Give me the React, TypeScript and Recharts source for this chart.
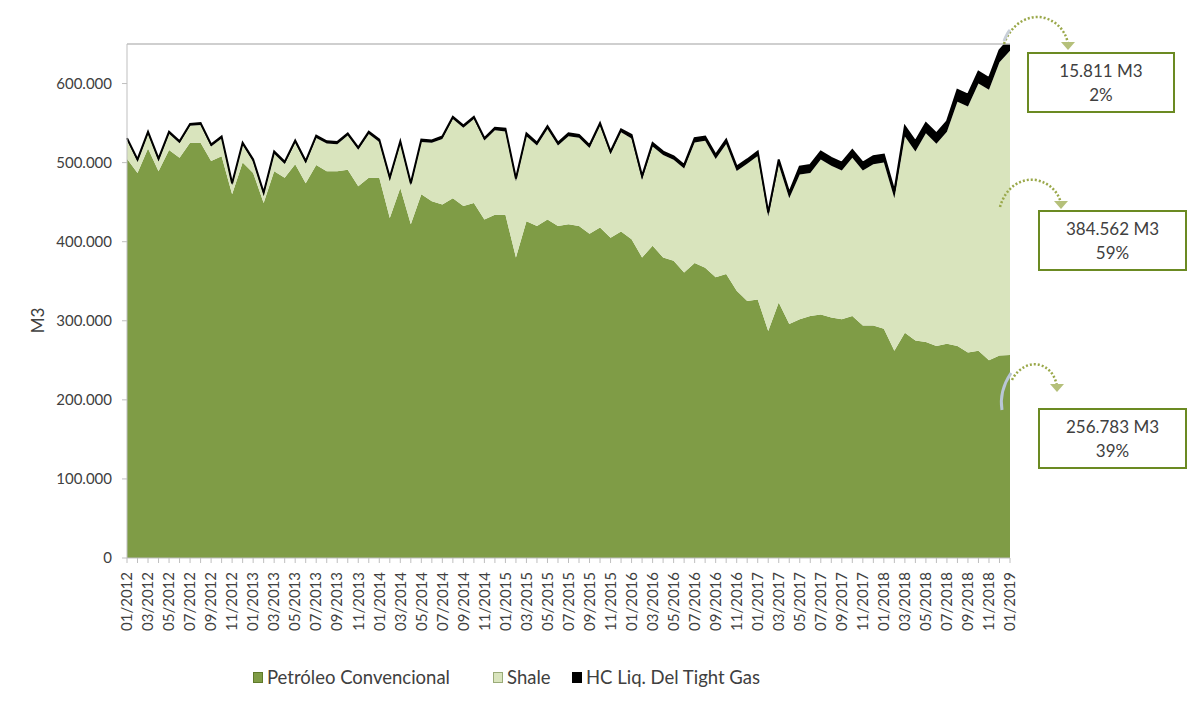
import { AreaChart, Area, XAxis, YAxis, ReferenceLine } from 'recharts';

const months = [
  '01/2012', '02/2012', '03/2012', '04/2012', '05/2012', '06/2012', '07/2012', '08/2012', '09/2012', '10/2012', '11/2012', '12/2012',
  '01/2013', '02/2013', '03/2013', '04/2013', '05/2013', '06/2013', '07/2013', '08/2013', '09/2013', '10/2013', '11/2013', '12/2013',
  '01/2014', '02/2014', '03/2014', '04/2014', '05/2014', '06/2014', '07/2014', '08/2014', '09/2014', '10/2014', '11/2014', '12/2014',
  '01/2015', '02/2015', '03/2015', '04/2015', '05/2015', '06/2015', '07/2015', '08/2015', '09/2015', '10/2015', '11/2015', '12/2015',
  '01/2016', '02/2016', '03/2016', '04/2016', '05/2016', '06/2016', '07/2016', '08/2016', '09/2016', '10/2016', '11/2016', '12/2016',
  '01/2017', '02/2017', '03/2017', '04/2017', '05/2017', '06/2017', '07/2017', '08/2017', '09/2017', '10/2017', '11/2017', '12/2017',
  '01/2018', '02/2018', '03/2018', '04/2018', '05/2018', '06/2018', '07/2018', '08/2018', '09/2018', '10/2018', '11/2018', '12/2018',
  '01/2019',
];

// m3 por mes
const convencional = [
  505000, 487000, 518000, 489000, 516000, 506000, 525000, 525000, 502000, 508000, 460000, 500000,
  487000, 449000, 489000, 481000, 498000, 474000, 497000, 489000, 489000, 491000, 470000, 481000,
  481000, 430000, 468000, 422000, 460000, 451000, 447000, 455000, 445000, 449000, 428000, 434000,
  434000, 380000, 426000, 420000, 428000, 420000, 422000, 420000, 410000, 418000, 405000, 413000,
  403000, 380000, 395000, 380000, 376000, 361000, 373000, 367000, 355000, 359000, 338000, 325000,
  327000, 287000, 323000, 296000, 302000, 306000, 308000, 304000, 302000, 306000, 294000, 294000,
  290000, 262000, 285000, 275000, 273000, 268000, 271000, 268000, 260000, 262000, 250000, 256000,
  256783,
];

const shale = [
  23500, 14500, 18500, 13500, 20500, 18500, 21500, 22500, 18500, 22500, 11500, 22500,
  14200, 10200, 22200, 17200, 27200, 25200, 34200, 35200, 34200, 43200, 46200, 55200,
  45000, 48000, 56000, 49000, 66000, 74000, 83000, 100000, 99000, 106000, 100000, 107000,
  105500, 96500, 107500, 101500, 114500, 101500, 111500, 111500, 108500, 128500, 105500, 125500,
  127500, 98500, 125500, 129500, 127500, 131500, 152500, 160500, 149500, 164500, 151500, 173500,
  181500, 145000, 174000, 159000, 183000, 181000, 196000, 192000, 188000, 200000, 196000, 204000,
  210000, 193000, 248000, 239000, 264000, 256000, 268000, 309000, 311000, 338000, 342000, 371000,
  384562,
];

const tightGas = [
  2500, 2500, 2500, 2500, 2500, 2500, 2500, 2500, 2500, 2500, 2500, 2500,
  2800, 2800, 2800, 2800, 2800, 2800, 2800, 2800, 2800, 2800, 2800, 2800,
  3000, 3000, 3000, 3000, 3000, 3000, 3000, 3000, 3000, 3000, 3000, 3000,
  3500, 3500, 3500, 3500, 3500, 3500, 3500, 3500, 3500, 3500, 3500, 3500,
  4500, 4500, 4500, 4500, 4500, 4500, 5500, 5500, 5500, 5500, 5500, 5500,
  5500, 5000, 7000, 7000, 10000, 10000, 10000, 10000, 10000, 10000, 10000, 10000,
  10000, 9000, 13000, 13000, 13000, 13000, 13000, 15000, 15000, 15000, 15000, 15000,
  15811,
];

const yTicks = [0, 100000, 200000, 300000, 400000, 500000, 600000];

const data = months.map((m, i) => ({
  month: m,
  convencional: convencional[i],
  shale: shale[i],
  tight: tightGas[i],
}));

const FONT = 'Lato, "Open Sans", sans-serif';
const GREEN = '#7f9c46';
const LIGHT = '#d9e4bd';
const BORDER = '#6b8a22';

const fmt = (v: number) => String(v).replace(/\B(?=(\d{3})+(?!\d))/g, '.');

function MonthTick(props: any) {
  const { x, y, payload, index } = props;
  if (index % 2 !== 0) return null;
  return (
    <text
      x={x}
      y={y}
      transform={`rotate(-90, ${x}, ${y})`}
      textAnchor="end"
      dy="0.35em"
      fontSize={15}
      fontFamily={FONT}
      fill="#404040"
    >
      {payload.value}
    </text>
  );
}

const boxStyle = (left: number, top: number, w: number): React.CSSProperties => ({
  position: 'absolute',
  left,
  top,
  width: w,
  height: 61,
  border: `2px solid ${BORDER}`,
  background: '#fff',
  boxSizing: 'border-box',
  fontFamily: FONT,
  fontSize: 17,
  color: '#404040',
  textAlign: 'center',
  lineHeight: '24px',
  paddingTop: 5,
});

const legendItems = [
  { label: 'Petróleo Convencional', color: GREEN, border: '#5f7a2a', x: 253 },
  { label: 'Shale', color: LIGHT, border: '#9aab78', x: 493 },
  { label: 'HC Liq. Del Tight Gas', color: '#000', border: '#000', x: 572 },
];

export default function App() {
  return (
    <div style={{ position: 'absolute', left: 0, top: 0, width: 1192, height: 717, background: '#fff' }}>
      <AreaChart
        width={1192}
        height={717}
        data={data}
        margin={{ top: 44, right: 182, bottom: 69, left: 50 }}
      >
        <XAxis
          dataKey="month"
          interval={0}
          tick={<MonthTick />}
          tickLine={{ stroke: '#bfbfbf' }}
          tickSize={5}
          tickMargin={9}
          axisLine={{ stroke: '#bfbfbf' }}
          height={90}
        />
        <YAxis
          type="number"
          domain={[0, 650000]}
          allowDataOverflow
          ticks={yTicks}
          tickFormatter={fmt}
          width={77}
          tick={{ fontSize: 15, fontFamily: FONT, fill: '#404040' }}
          tickLine={{ stroke: '#bfbfbf' }}
          tickSize={5}
          tickMargin={10}
          axisLine={{ stroke: '#bfbfbf' }}
        />
        <Area
          type="linear"
          dataKey="convencional"
          stackId="1"
          stroke="none"
          fill={GREEN}
          fillOpacity={1}
          isAnimationActive={false}
        />
        <Area
          type="linear"
          dataKey="shale"
          stackId="1"
          stroke="none"
          fill={LIGHT}
          fillOpacity={1}
          isAnimationActive={false}
        />
        <Area
          type="linear"
          dataKey="tight"
          stackId="1"
          stroke="#000"
          strokeWidth={2}
          fill="#000"
          fillOpacity={1}
          isAnimationActive={false}
        />
        <ReferenceLine y={650000} stroke="#bfbfbf" strokeWidth={1.5} />
      </AreaChart>

      <div
        style={{
          position: 'absolute',
          left: 37 - 20,
          top: 310,
          width: 40,
          textAlign: 'center',
          transform: 'rotate(-90deg)',
          fontFamily: FONT,
          fontSize: 17,
          color: '#404040',
        }}
      >
        M3
      </div>

      <svg width={1192} height={717} style={{ position: 'absolute', left: 0, top: 0, pointerEvents: 'none' }}>
        <g fill="none" stroke="#9aa84a" strokeWidth={2.5} strokeDasharray="2 2">
          <path d="M1004 44 C1012 22, 1030 14, 1045 18 C1058 22, 1066 32, 1068 44" />
          <path d="M1000 207 C1006 186, 1022 178, 1036 180 C1050 183, 1058 192, 1061 203" />
          <path d="M1012 380 C1018 368, 1030 362, 1040 365 C1050 368, 1055 376, 1057 386" />
        </g>
        <g fill="#b5c07a">
          <path d="M1061 42 L1075 42 L1068 50 Z" />
          <path d="M1054 201 L1068 201 L1061 209 Z" />
          <path d="M1050 384 L1064 384 L1057 392 Z" />
        </g>
        <path d="M1011 373 C1003 385, 1000 398, 1002 410" fill="none" stroke="#b9c6d6" strokeWidth={3} />
        <path d="M1004 41 C1006 36, 1008 32, 1010 30" fill="none" stroke="#c8cfd8" strokeWidth={3} />
      </svg>

      <div style={boxStyle(1027, 52, 148)}>
        15.811 M3
        <br />
        2%
      </div>
      <div style={boxStyle(1038, 210, 149)}>
        384.562 M3
        <br />
        59%
      </div>
      <div style={boxStyle(1038, 408, 149)}>
        256.783 M3
        <br />
        39%
      </div>

      {legendItems.map((it) => (
        <div
          key={it.label}
          style={{
            position: 'absolute',
            left: it.x,
            top: 666,
            display: 'flex',
            alignItems: 'center',
            fontFamily: FONT,
            fontSize: 18.5,
            color: '#404040',
            whiteSpace: 'nowrap',
          }}
        >
          <span
            style={{
              display: 'inline-block',
              width: 10,
              height: 11,
              background: it.color,
              border: `1px solid ${it.border}`,
              boxSizing: 'border-box',
              marginRight: 4,
            }}
          />
          {it.label}
        </div>
      ))}
    </div>
  );
}
